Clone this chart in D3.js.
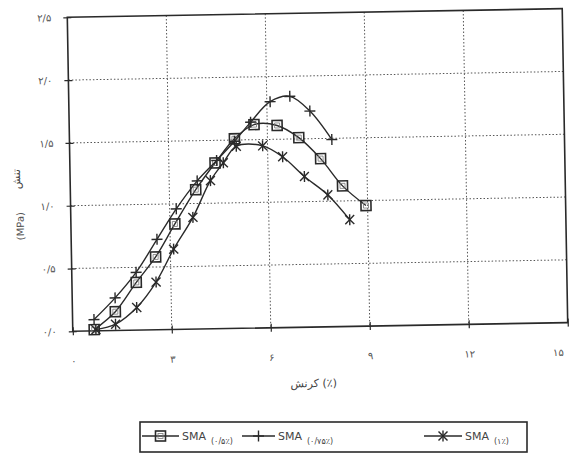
<!DOCTYPE html>
<html><head><meta charset="utf-8">
<script src="https://cdn.jsdelivr.net/npm/d3@7/dist/d3.min.js"></script>
<style>body{margin:0;background:#fff}svg{display:block}text{font-family:"DejaVu Sans",sans-serif}</style>
</head><body><svg id="c" width="569" height="460"></svg>
<script>
// ---- data ----
const xTicks = [0, 3, 6, 9, 12, 15];
const xTickLabels = ["۰", "۳", "۶", "۹", "۱۲", "۱۵"];
const yTicks = [0, 0.5, 1, 1.5, 2, 2.5];
const yTickLabels = ["۰/۰", "۰/۵", "۱/۰", "۱/۵", "۲/۰", "۲/۵"];
const seriesNames = ["SMA", "SMA", "SMA"];
const seriesSubs = ["(۰/۵٪)", "(۰/۷۵٪)", "(۱٪)"];
const x1 = [0.65, 1.3, 1.95, 2.55, 3.15, 3.8, 4.4, 5.0, 5.6, 6.3, 6.95, 7.6, 8.25, 8.95];
const y1 = [0.01, 0.15, 0.38, 0.58, 0.84, 1.11, 1.32, 1.51, 1.62, 1.61, 1.51, 1.34, 1.12, 0.96];
const x2 = [0.65, 1.3, 1.95, 2.6, 3.2, 3.85, 4.45, 5.0, 5.5, 6.1, 6.7, 7.3, 7.95];
const y2 = [0.09, 0.26, 0.46, 0.72, 0.96, 1.18, 1.34, 1.49, 1.64, 1.80, 1.84, 1.72, 1.49];
const x3 = [0.7, 1.3, 1.95, 2.55, 3.1, 3.7, 4.25, 4.65, 5.05, 5.85, 6.45, 7.1, 7.8, 8.45];
const y3 = [0.01, 0.05, 0.18, 0.38, 0.64, 0.89, 1.18, 1.32, 1.45, 1.45, 1.36, 1.20, 1.05, 0.85];
const xLabel = "کرنش (٪)";
const yLabelA = "تنش";
const yLabelB = "(MPa)";

// ---- layout ----
const L = 70, R = 565, T = 13, B = 327;
const ink = "#2a2a2a";
const svg = d3.select("#c");
const g = svg.append("g").attr("transform", "rotate(-1,316,170)");
const x = d3.scaleLinear().domain([0, 15]).range([L, R]);
const y = d3.scaleLinear().domain([0, 2.5]).range([B, T]);

// grid
g.append("g").selectAll("line").data(xTicks.slice(1, -1)).join("line")
  .attr("x1", d => x(d)).attr("x2", d => x(d)).attr("y1", T).attr("y2", B)
  .attr("stroke", "#555").attr("stroke-width", 1).attr("stroke-dasharray", "1.5,2");
g.append("g").selectAll("line").data(yTicks.slice(1, -1)).join("line")
  .attr("y1", d => y(d)).attr("y2", d => y(d)).attr("x1", L).attr("x2", R)
  .attr("stroke", "#555").attr("stroke-width", 1).attr("stroke-dasharray", "1.5,2");

// frame
g.append("rect").attr("x", L).attr("y", T).attr("width", R - L).attr("height", B - T)
  .attr("fill", "none").attr("stroke", ink).attr("stroke-width", 1.6);

// axes via d3
const xAxis = d3.axisBottom(x).tickValues(xTicks).tickFormat((d, i) => xTickLabels[i]).tickSize(4).tickPadding(22);
const yAxis = d3.axisLeft(y).tickValues(yTicks).tickFormat((d, i) => yTickLabels[i]).tickSize(4).tickPadding(12);
const gx = g.append("g").attr("transform", `translate(0,${B})`).call(xAxis);
const gy = g.append("g").attr("transform", `translate(${L},0)`).call(yAxis);
[gx, gy].forEach(a => {
  a.select(".domain").remove();
  a.selectAll(".tick line").attr("stroke", ink).attr("stroke-width", 1.2);
  a.selectAll(".tick text").attr("fill", "#555").attr("font-size", 10).attr("direction", "ltr");
});
gx.selectAll(".tick line").attr("y1", -4);
gy.selectAll(".tick line").attr("x1", 4);
gx.selectAll(".tick text").filter(d => d === 15).attr("text-anchor", "end").attr("dx", -5);

// axis labels
g.append("text").attr("x", 310).attr("y", 387).attr("text-anchor", "middle")
  .attr("font-size", 11).attr("fill", "#444").text(xLabel);
g.append("text").attr("transform", "translate(20,174) rotate(-90)").attr("text-anchor", "middle")
  .attr("font-size", 11).attr("fill", "#444").text(yLabelA);
g.append("text").attr("transform", "translate(23,221) rotate(-90)").attr("text-anchor", "middle")
  .attr("font-size", 10).attr("fill", "#555").text(yLabelB);

// series
const series = [
  { xs: x1, ys: y1, m: "square" },
  { xs: x2, ys: y2, m: "plus" },
  { xs: x3, ys: y3, m: "star" }
];
const line = d3.line().x(d => x(d[0])).y(d => y(d[1])).curve(d3.curveCatmullRom.alpha(0.5));

function marker(sel, type, cx, cy) {
  const m = sel.append("g").attr("transform", `translate(${cx},${cy})`)
    .attr("stroke", ink).attr("fill", "none");
  if (type === "square") {
    m.append("rect").attr("x", -5).attr("y", -5).attr("width", 10).attr("height", 10).attr("stroke-width", 1.6);
    m.append("rect").attr("x", -2.5).attr("y", -2.5).attr("width", 5).attr("height", 5).attr("stroke-width", 0.8).attr("stroke", "#777");
  } else if (type === "plus") {
    m.append("line").attr("x1", 0).attr("x2", 0).attr("y1", -5.5).attr("y2", 5.5).attr("stroke-width", 1.4);
    m.append("line").attr("x1", -5.5).attr("x2", 5.5).attr("y1", 0).attr("y2", 0).attr("stroke-width", 1.4);
  } else {
    m.append("line").attr("x1", -4.5).attr("x2", 4.5).attr("y1", -4.5).attr("y2", 4.5).attr("stroke-width", 1.4);
    m.append("line").attr("x1", -4.5).attr("x2", 4.5).attr("y1", 4.5).attr("y2", -4.5).attr("stroke-width", 1.4);
    m.append("line").attr("x1", 0).attr("x2", 0).attr("y1", -5.5).attr("y2", 5.5).attr("stroke-width", 1.4);
  }
}

series.forEach(s => {
  const pts = s.xs.map((v, i) => [v, s.ys[i]]);
  g.append("path").attr("d", line(pts)).attr("fill", "none").attr("stroke", ink).attr("stroke-width", 1.4);
  const mg = g.append("g");
  pts.forEach(p => marker(mg, s.m, x(p[0]), y(p[1])));
});

// legend
const lg = svg.append("g");
lg.append("rect").attr("x", 140).attr("y", 422).attr("width", 387).attr("height", 30)
  .attr("fill", "#fff").attr("stroke", ink).attr("stroke-width", 1.6);
const legX = [140, 240, 422];
const lineW = [37, 33, 38];
series.forEach((s, i) => {
  const lx = legX[i] + 2;
  lg.append("line").attr("x1", lx).attr("x2", lx + lineW[i]).attr("y1", 436).attr("y2", 436)
    .attr("stroke", ink).attr("stroke-width", 1.4);
  marker(lg, s.m, lx + lineW[i] / 2, 436);
  const t = lg.append("text").attr("x", lx + lineW[i] + 3).attr("y", 440).attr("font-size", 11)
    .attr("fill", "#444").attr("direction", "ltr");
  t.append("tspan").text(seriesNames[i]);
  t.append("tspan").attr("dx", 5).attr("dy", 4).attr("font-size", 8).text(seriesSubs[i]);
});
</script></body></html>
